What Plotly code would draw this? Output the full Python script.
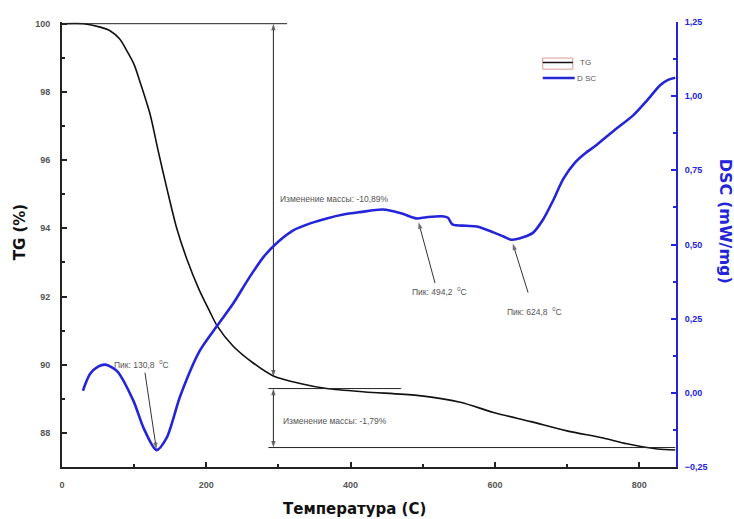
import plotly.graph_objects as go

# Thermogravimetric curve (mass, %) vs temperature (°C)
tg_temp = [0, 30, 53, 66, 80, 90, 100, 108, 122, 133, 145, 159, 173, 190, 205, 215,
           237, 265, 293, 330, 367, 420, 492, 552, 598, 650, 700, 750, 783, 825, 850]
tg_mass = [100, 100, 99.9, 99.8, 99.55, 99.2, 98.8, 98.3, 97.35, 96.3, 95.2, 94.0, 93.1,
           92.2, 91.55, 91.14, 90.55, 90.05, 89.67, 89.45, 89.3, 89.2, 89.1, 88.9, 88.6,
           88.33, 88.06, 87.85, 87.68, 87.53, 87.5]

# DSC heat flow (mW/mg) vs temperature (°C)
dsc_temp = [29, 39, 50, 60, 76, 99, 113, 131, 145, 164, 191, 215, 237, 260, 280, 300, 320,
            345, 367, 390, 413, 445, 470, 491, 505, 527, 535, 541, 560, 575, 598, 612, 623,
            640, 653, 667, 681, 695, 711, 724, 740, 764, 792, 811, 829, 840, 850]
dsc_flow = [0.007, 0.064, 0.088, 0.095, 0.074, -0.027, -0.118, -0.193, -0.152, -0.01, 0.142,
            0.226, 0.30, 0.39, 0.46, 0.51, 0.547, 0.572, 0.588, 0.601, 0.609, 0.618, 0.605,
            0.588, 0.592, 0.595, 0.590, 0.568, 0.563, 0.561, 0.541, 0.527, 0.516, 0.525,
            0.540, 0.585, 0.650, 0.722, 0.776, 0.805, 0.834, 0.882, 0.936, 0.986, 1.037,
            1.055, 1.062]

# DSC peaks: temperature, heat flow at the tip, arrow tail, label position
peak_temp = [130.8, 494.2, 624.8]
peak_flow = [-0.19, 0.575, 0.503]
peak_tail = [(115, 0.068), (517, 0.37), (646, 0.338)]
peak_label_pos = [(69, 0.095), (482, 0.341), (614, 0.274)]

# Mass-loss steps
step_temp = 293
step1_top, step1_bottom = 100.0, 89.65
step2_top, step2_bottom = 89.3, 87.57
mass_change = ["-10,89%", "-1,79%"]

BLUE = "#2424d8"
GREY = "#555555"
TITLE_FONT = "DejaVu Sans"

fig = go.Figure()
fig.add_trace(go.Scatter(x=tg_temp, y=tg_mass, name="TG", mode="lines", showlegend=False,
                         line=dict(color="#111111", width=1.6, shape="spline", smoothing=0.8)))
fig.add_trace(go.Scatter(x=dsc_temp, y=dsc_flow, name="DSC", mode="lines", yaxis="y2",
                         showlegend=False,
                         line=dict(color=BLUE, width=2.6, shape="spline", smoothing=0.8)))


def arrow(x0, y0, x1, y1, yaxis="y", color="#222"):
    """Straight line from (x0, y0) with an arrowhead at (x1, y1)."""
    fig.add_trace(go.Scatter(
        x=[x0, x1], y=[y0, y1], yaxis=yaxis, mode="lines+markers", showlegend=False,
        hoverinfo="skip", line=dict(color=color, width=1),
        marker=dict(symbol=["circle", "arrow"], size=[0, 7], color=color,
                    angleref="previous", line=dict(width=0))))


# reference lines for the mass-loss steps
fig.add_shape(type="line", xref="x", yref="y", x0=0, x1=312, y0=step1_top, y1=step1_top,
              line=dict(color="#222", width=1))
fig.add_shape(type="line", xref="x", yref="y", x0=286, x1=470, y0=step2_top, y1=step2_top,
              line=dict(color="#222", width=1))
fig.add_shape(type="line", xref="x", yref="y", x0=286, x1=850, y0=step2_bottom, y1=step2_bottom,
              line=dict(color="#222", width=1))

# double-headed arrows spanning each step
for top, bottom in [(step1_top, step1_bottom), (step2_top, step2_bottom)]:
    mid = (top + bottom) / 2
    arrow(step_temp, mid, step_temp, top)
    arrow(step_temp, mid, step_temp, bottom)

annotations = [
    dict(x=299, y=94.86, xref="x", yref="y", xanchor="left", yanchor="middle",
         text="Изменение массы: " + mass_change[0], showarrow=False,
         font=dict(size=8.5, color=GREY)),
    dict(x=303, y=88.35, xref="x", yref="y", xanchor="left", yanchor="middle",
         text="Изменение массы: " + mass_change[1], showarrow=False,
         font=dict(size=8.5, color=GREY)),
]

for t, f, (tx, ty), (lx, ly) in zip(peak_temp, peak_flow, peak_tail, peak_label_pos):
    arrow(tx, ty, t, f, yaxis="y2", color="#333")
    label = "Пик: " + f"{t:.1f}".replace(".", ",") + "  <sup>0</sup>C"
    annotations.append(dict(x=lx, y=ly, xref="x", yref="y2", xanchor="left", yanchor="middle",
                            text=label, showarrow=False, font=dict(size=8.5, color=GREY)))

# axis titles
annotations += [
    dict(x=-0.068, y=0.528, xref="paper", yref="paper", xanchor="center", yanchor="middle",
         text="<b>TG (%)</b>", textangle=-90,
         showarrow=False, font=dict(size=15, color="#111", family=TITLE_FONT)),
    dict(x=1.080, y=0.553, xref="paper", yref="paper", xanchor="center", yanchor="middle",
         text="<b>DSC (mW/mg)</b>", textangle=90,
         showarrow=False, font=dict(size=16, color=BLUE, family=TITLE_FONT)),
    dict(x=0.476, y=-0.094, xref="paper", yref="paper", xanchor="center", yanchor="middle",
         text="<b>Температура (С)</b>",
         showarrow=False, font=dict(size=15, color="#111", family=TITLE_FONT)),
]

# legend
annotations += [
    dict(x=0.840, y=0.910, xref="paper", yref="paper", xanchor="left", yanchor="middle",
         text="TG", showarrow=False, font=dict(size=8, color=GREY)),
    dict(x=0.836, y=0.874, xref="paper", yref="paper", xanchor="left", yanchor="middle",
         text="D SC", showarrow=False, font=dict(size=8, color=GREY)),
]
legend_shapes = [
    dict(type="rect", xref="paper", yref="paper", x0=0.783, x1=0.832, y0=0.894, y1=0.919,
         line=dict(color="#d89a90", width=1)),
    dict(type="line", xref="paper", yref="paper", x0=0.783, x1=0.832, y0=0.909, y1=0.909,
         line=dict(color="#111", width=1.5)),
    dict(type="line", xref="paper", yref="paper", x0=0.783, x1=0.835, y0=0.874, y1=0.874,
         line=dict(color=BLUE, width=2.5)),
]
for s in legend_shapes:
    fig.add_shape(**s)

tickfont = dict(size=9, color=GREY, family="Liberation Sans", weight="bold")

fig.update_layout(
    width=734, height=519,
    margin=dict(l=62, r=58, t=22, b=52),
    paper_bgcolor="white", plot_bgcolor="white",
    font=dict(family="Liberation Sans, Arial, sans-serif"),
    separators=", ",
    showlegend=False,
    xaxis=dict(range=[0, 851], dtick=200, tick0=0, ticks="inside", ticklen=5, tickwidth=1.5,
               tickcolor="#222", showline=True, linecolor="#222", linewidth=2, showgrid=False,
               zeroline=False, tickfont=tickfont, ticklabelstandoff=8,
               minor=dict(dtick=100, ticks="inside", ticklen=3, tickcolor="#222")),
    yaxis=dict(range=[87, 100.05], dtick=2, tick0=88, ticks="inside", ticklen=5, tickwidth=1.5,
               tickcolor="#222", showline=True, linecolor="#222", linewidth=2, showgrid=False,
               zeroline=False, tickfont=tickfont, ticklabelstandoff=8,
               minor=dict(dtick=1, ticks="inside", ticklen=3, tickcolor="#222")),
    yaxis2=dict(range=[-0.25, 1.25], dtick=0.25, tick0=0, overlaying="y", side="right",
                anchor="x", ticks="inside", ticklen=5, tickwidth=1.5, tickcolor=BLUE,
                showline=True, linecolor=BLUE, linewidth=2, showgrid=False, zeroline=False,
                tickformat=".2f", tickfont=dict(size=9, color=BLUE, family="Liberation Sans",
                                                weight="bold"),
                ticklabelstandoff=5,
                minor=dict(dtick=0.125, ticks="inside", ticklen=3, tickcolor=BLUE)),
    annotations=annotations,
)

fig.write_html("out.html")
